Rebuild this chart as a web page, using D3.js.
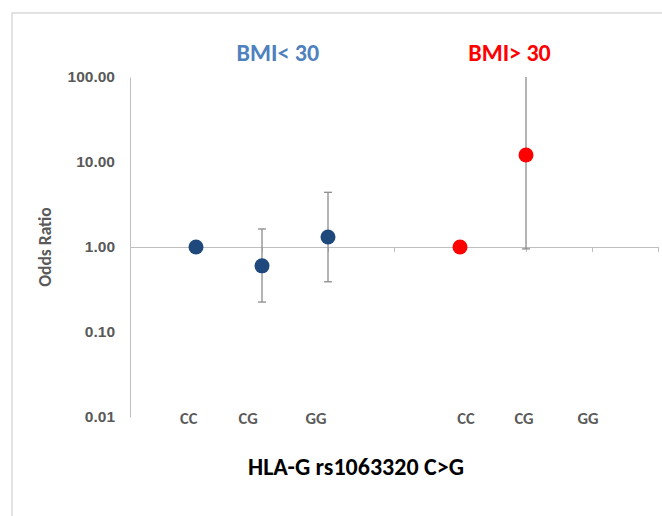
<!DOCTYPE html>
<html><head><meta charset="utf-8">
<script src="https://cdn.jsdelivr.net/npm/d3@7"></script>
<style>
html,body{margin:0;padding:0;background:#fff;}
svg{display:block;font-family:Carlito,Lato,"Open Sans",sans-serif;}
</style></head>
<body><svg id="c" width="662" height="516"></svg>
<script>
// ---- data ----
const groupTitles = ["BMI< 30", "BMI> 30"];
const yTicks = [0.01, 0.1, 1, 10, 100];
const xTicks = [0, 1, 2, 3, 4, 5, 6, 7, 8];
const blueX = [1, 2, 3];
const blueOR = [1.00, 0.60, 1.31];
const blueLow = [null, 0.225, 0.39];
const blueHigh = [null, 1.63, 4.4];
const redX = [5, 6];
const redOR = [1.00, 12.1];
const redLow = [null, 0.95];
const redHigh = [null, 100];
const catLabels = ["CC", "CG", "GG", "CC", "CG", "GG"];
const catLabelX = [0.89, 1.79, 2.82, 5.09, 5.97, 6.94];
const titleX = [2.24, 5.75];
const xTitle = "HLA-G rs1063320 C>G";
const yTitle = "Odds Ratio";

// ---- chart ----
const svg = d3.select("#c");
svg.append("rect").attr("x", 12).attr("y", 13).attr("width", 670).attr("height", 530)
  .attr("fill", "#fff").attr("stroke", "#d9d9d9").attr("stroke-width", 1.5);

const x = d3.scaleLinear().domain([0, 8]).range([130, 658]);
const y = d3.scaleLog().domain([0.01, 100]).range([417, 77]);

// y axis
const yAx = svg.append("g").attr("transform", "translate(130,0)")
  .call(d3.axisLeft(y).tickValues(yTicks).tickSize(0).tickPadding(15).tickFormat(d3.format(".2f")));
yAx.select(".domain").attr("stroke", "#bfbfbf");
yAx.selectAll("text").attr("fill", "#595959").attr("font-size", 15.5).attr("font-weight", "bold");

// x axis crossing at 1
const xAx = svg.append("g").attr("transform", `translate(0,${y(1)})`)
  .call(d3.axisBottom(x).tickValues(xTicks).tickSize(5).tickSizeOuter(0).tickFormat(""));
xAx.select(".domain").attr("stroke", "#bfbfbf");
xAx.selectAll(".tick line").attr("stroke", "#bfbfbf");

function series(xs, ors, lows, highs, color) {
  const g = svg.append("g");
  xs.forEach((xv, i) => {
    if (lows[i] != null) {
      const cx = x(xv), y1 = y(highs[i]), y0 = y(lows[i]);
      g.append("line").attr("x1", cx).attr("x2", cx).attr("y1", y1).attr("y2", y0)
        .attr("stroke", "#8c8c8c").attr("stroke-width", 1.3);
      if (highs[i] < 100) g.append("line").attr("x1", cx - 4).attr("x2", cx + 4).attr("y1", y1).attr("y2", y1)
        .attr("stroke", "#8c8c8c").attr("stroke-width", 1.3);
      g.append("line").attr("x1", cx - 4).attr("x2", cx + 4).attr("y1", y0).attr("y2", y0)
        .attr("stroke", "#8c8c8c").attr("stroke-width", 1.3);
    }
  });
  g.selectAll("circle").data(xs).join("circle")
    .attr("cx", d => x(d)).attr("cy", (d, i) => y(ors[i])).attr("r", 7.5).attr("fill", color);
}
series(blueX, blueOR, blueLow, blueHigh, "#1f497d");
series(redX, redOR, redLow, redHigh, "#ff0000");

// category labels
svg.selectAll(".cat").data(catLabels).join("text")
  .attr("x", (d, i) => x(catLabelX[i])).attr("y", 424).attr("text-anchor", "middle")
  .attr("fill", "#595959").attr("font-size", 16.5).attr("font-weight", "bold").text(d => d);

// group titles
const titleColors = ["#4f81bd", "#ff0000"];
svg.selectAll(".gt").data(groupTitles).join("text")
  .attr("x", (d, i) => x(titleX[i])).attr("y", 61).attr("text-anchor", "middle")
  .attr("fill", (d, i) => titleColors[i]).attr("font-size", 24).attr("font-weight", "bold").text(d => d);

// axis titles
svg.append("text").attr("x", 356).attr("y", 475).attr("text-anchor", "middle")
  .attr("font-size", 24).attr("font-weight", "bold").attr("fill", "#000").text(xTitle);
svg.append("text").attr("transform", "translate(51,247) rotate(-90)").attr("text-anchor", "middle")
  .attr("font-size", 17.5).attr("font-weight", "bold").attr("fill", "#595959").text(yTitle);
</script></body></html>
